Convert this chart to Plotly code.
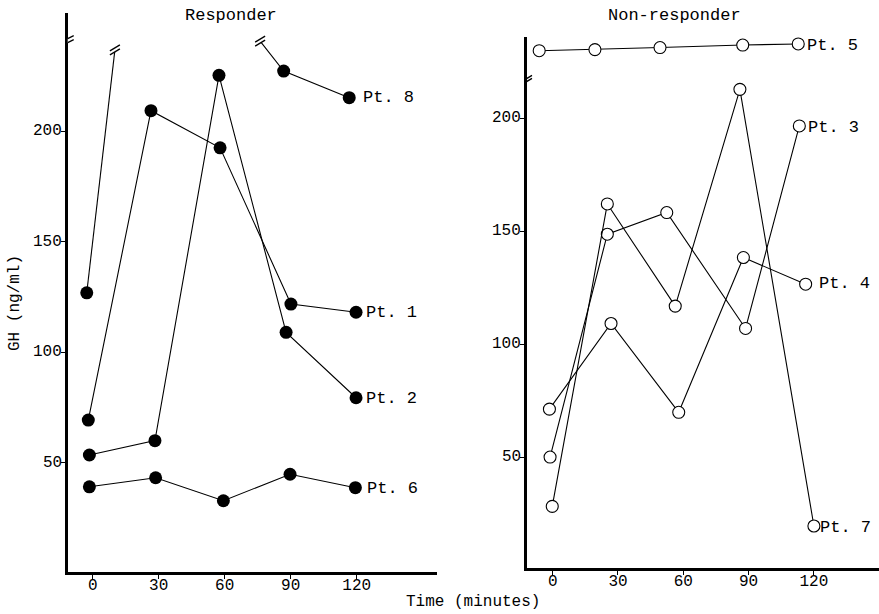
import plotly.graph_objects as go

# ---------------- data ----------------
time_ticks = [0, 30, 60, 90, 120]
gh_ticks = [50, 100, 150, 200]

# Responder (filled circles)
pt1_t = [-2.0, 26.5, 57.9, 90.1, 119.7]
pt1_gh = [69.2, 209.2, 192.4, 121.7, 118.0]
pt2_t = [-1.5, 28.3, 57.4, 87.9, 119.7]
pt2_gh = [53.4, 59.9, 225.2, 108.9, 79.3]
pt6_t = [-1.5, 28.6, 59.4, 89.7, 119.4]
pt6_gh = [39.0, 43.1, 32.7, 44.7, 38.6]
# Pt. 8: off-scale values at 30/60 min, drawn to a break mark
pt8_t = [-2.7, 86.8, 116.6]
pt8_gh = [126.8, 227.1, 215.1]
pt8_break_t = [10.1, 76.1]
pt8_break_gh = [236.7, 240.7]

# Non-responder (open circles)
pt3_t = [-1.2, 25.1, 52.4, 88.6, 113.3]
pt3_gh = [50.1, 148.7, 158.3, 107.0, 196.6]
pt4_t = [-1.5, 26.8, 57.9, 87.6, 116.2]
pt4_gh = [71.3, 109.2, 69.9, 138.4, 126.6]
pt7_t = [-0.2, 25.1, 56.3, 86.0, 120.0]
pt7_gh = [28.3, 162.1, 116.9, 212.8, 19.6]
# Pt. 5 plotted above the axis break
pt5_t = [-6.2, 19.4, 49.3, 87.3, 112.8]
pt5_gh = [229.9, 230.4, 231.3, 232.4, 232.9]

left_axis_break_gh = 240.9
right_axis_break_gh = 217.0

# ---------------- figure ----------------
W, H = 879, 614
FONT = "Liberation Mono"
fig = go.Figure()

line_style = dict(color="black", width=1.1)
filled = dict(symbol="circle", color="black", size=13, line=dict(width=0))
hollow = dict(symbol="circle", color="white", size=12, line=dict(color="black", width=1.1))

for t, g in [(pt1_t, pt1_gh), (pt2_t, pt2_gh), (pt6_t, pt6_gh)]:
    fig.add_trace(go.Scatter(x=t, y=g, mode="lines+markers", line=line_style,
                             marker=filled, xaxis="x", yaxis="y", showlegend=False))

# Pt. 8 lines (with off-scale segments ending at break marks)
fig.add_trace(go.Scatter(x=[pt8_t[0], pt8_break_t[0], None, pt8_break_t[1]] + pt8_t[1:],
                         y=[pt8_gh[0], pt8_break_gh[0], None, pt8_break_gh[1]] + pt8_gh[1:],
                         mode="lines", line=line_style, connectgaps=False,
                         xaxis="x", yaxis="y", showlegend=False))
fig.add_trace(go.Scatter(x=pt8_t, y=pt8_gh, mode="markers", marker=filled,
                         xaxis="x", yaxis="y", showlegend=False))

for t, g in [(pt5_t, pt5_gh), (pt3_t, pt3_gh), (pt4_t, pt4_gh), (pt7_t, pt7_gh)]:
    fig.add_trace(go.Scatter(x=t, y=g, mode="lines+markers", line=line_style,
                             marker=hollow, xaxis="x2", yaxis="y2", showlegend=False))

# ---------------- labels ----------------
anns = []
labels = [
    ("Pt. 8", pt8_t[-1], pt8_gh[-1], "x", "y", 12, 0),
    ("Pt. 1", pt1_t[-1], pt1_gh[-1], "x", "y", 8, 0),
    ("Pt. 2", pt2_t[-1], pt2_gh[-1], "x", "y", 8, -1),
    ("Pt. 6", pt6_t[-1], pt6_gh[-1], "x", "y", 10, -1),
    ("Pt. 5", pt5_t[-1], pt5_gh[-1], "x2", "y2", 7, -2),
    ("Pt. 3", pt3_t[-1], pt3_gh[-1], "x2", "y2", 7, -2),
    ("Pt. 4", pt4_t[-1], pt4_gh[-1], "x2", "y2", 11, 1),
    ("Pt. 7", pt7_t[-1], pt7_gh[-1], "x2", "y2", 4, -1),
]
for txt, x, y, xr, yr, dx, dy in labels:
    anns.append(dict(text=txt, x=x, y=y, xref=xr, yref=yr, xanchor="left", yanchor="middle",
                     xshift=dx, yshift=dy, showarrow=False, font=dict(family=FONT, size=17, color="black")))

xl_dom = [67.7 / W, 437 / W]
xr_dom = [527 / W, 1.0]

# y tick labels (placed close to the axis as in the original)
for yref, x0 in (("y", xl_dom[0]), ("y2", xr_dom[0])):
    for v in gh_ticks:
        anns.append(dict(text=str(v), x=x0, y=v, xref="paper", yref=yref, xanchor="right",
                         yanchor="middle", xshift=-4, showarrow=False,
                         font=dict(family=FONT, size=16, color="black")))

anns += [
    dict(text="Responder", x=231 / W, y=1 - 15 / H, xref="paper", yref="paper", showarrow=False,
         xanchor="center", yanchor="middle", font=dict(family=FONT, size=17, color="black")),
    dict(text="Non-responder", x=674.7 / W, y=1 - 15 / H, xref="paper", yref="paper", showarrow=False,
         xanchor="center", yanchor="middle", font=dict(family=FONT, size=17, color="black")),
    dict(text="Time (minutes)", x=473 / W, y=1 - 602 / H, xref="paper", yref="paper", showarrow=False,
         xanchor="center", yanchor="middle", font=dict(family=FONT, size=16, color="black")),
    dict(text="GH (ng/ml)", x=15 / W, y=1 - 303 / H, xref="paper", yref="paper", showarrow=False,
         textangle=-90, xanchor="center", yanchor="middle", font=dict(family=FONT, size=16, color="black")),
]

# ---------------- break marks ----------------
def break_mark(xref, yref, x, y, half=6, gap=4):
    shapes = [dict(type="path", xref=xref, yref=yref, xsizemode="pixel", ysizemode="pixel",
                   xanchor=x, yanchor=y,
                   path=f"M{-half},{-gap/2 - 3} L{half},{-gap/2 + 3} L{half},{gap/2 + 3} L{-half},{gap/2 - 3} Z",
                   fillcolor="white", line=dict(width=0))]
    for off in (-gap / 2, gap / 2):
        shapes.append(dict(type="line", xref=xref, yref=yref, xsizemode="pixel", ysizemode="pixel",
                           xanchor=x, yanchor=y, x0=-half, y0=off - 3, x1=half, y1=off + 3,
                           line=dict(color="black", width=1.3)))
    return shapes

xl_range = [-11.36, 156.5]
xr_range = [-11.8, 149.9]
shapes = []
shapes += break_mark("x", "y", xl_range[0], left_axis_break_gh)
shapes += break_mark("x2", "y2", xr_range[0], right_axis_break_gh, half=5, gap=3)
shapes += break_mark("x", "y", pt8_break_t[0], pt8_break_gh[0], half=5, gap=4)
shapes += break_mark("x", "y", pt8_break_t[1], pt8_break_gh[1], half=5, gap=4)

axis_common = dict(showline=True, linecolor="black", showgrid=False, zeroline=False,
                   ticks="outside", ticklen=4, tickwidth=1.2, tickcolor="black",
                   tickfont=dict(family=FONT, size=16, color="black"), fixedrange=True)

fig.update_layout(
    width=W, height=H, margin=dict(l=0, r=0, t=0, b=0),
    template="none", plot_bgcolor="white", paper_bgcolor="white",
    showlegend=False,
    xaxis=dict(domain=xl_dom, range=xl_range, tickvals=time_ticks, anchor="y",
               linewidth=3, ticklabelstandoff=-8, **axis_common),
    yaxis=dict(domain=[1 - 571.7 / H, 1 - 13 / H], range=[0.6, 253.4], tickvals=gh_ticks, anchor="x",
               linewidth=3, showticklabels=False, **axis_common),
    xaxis2=dict(domain=xr_dom, range=xr_range, tickvals=time_ticks, anchor="y2",
                linewidth=3, ticklabelstandoff=-8, **axis_common),
    yaxis2=dict(domain=[1 - 567.7 / H, 1 - 36.7 / H], range=[1.15, 236.1], tickvals=gh_ticks, anchor="x2",
                linewidth=3, showticklabels=False, **axis_common),
    annotations=anns,
    shapes=shapes,
)

fig.write_html("out.html", config={"displayModeBar": False},
               post_script="document.body.style.margin='0';document.body.style.overflow='hidden';")
